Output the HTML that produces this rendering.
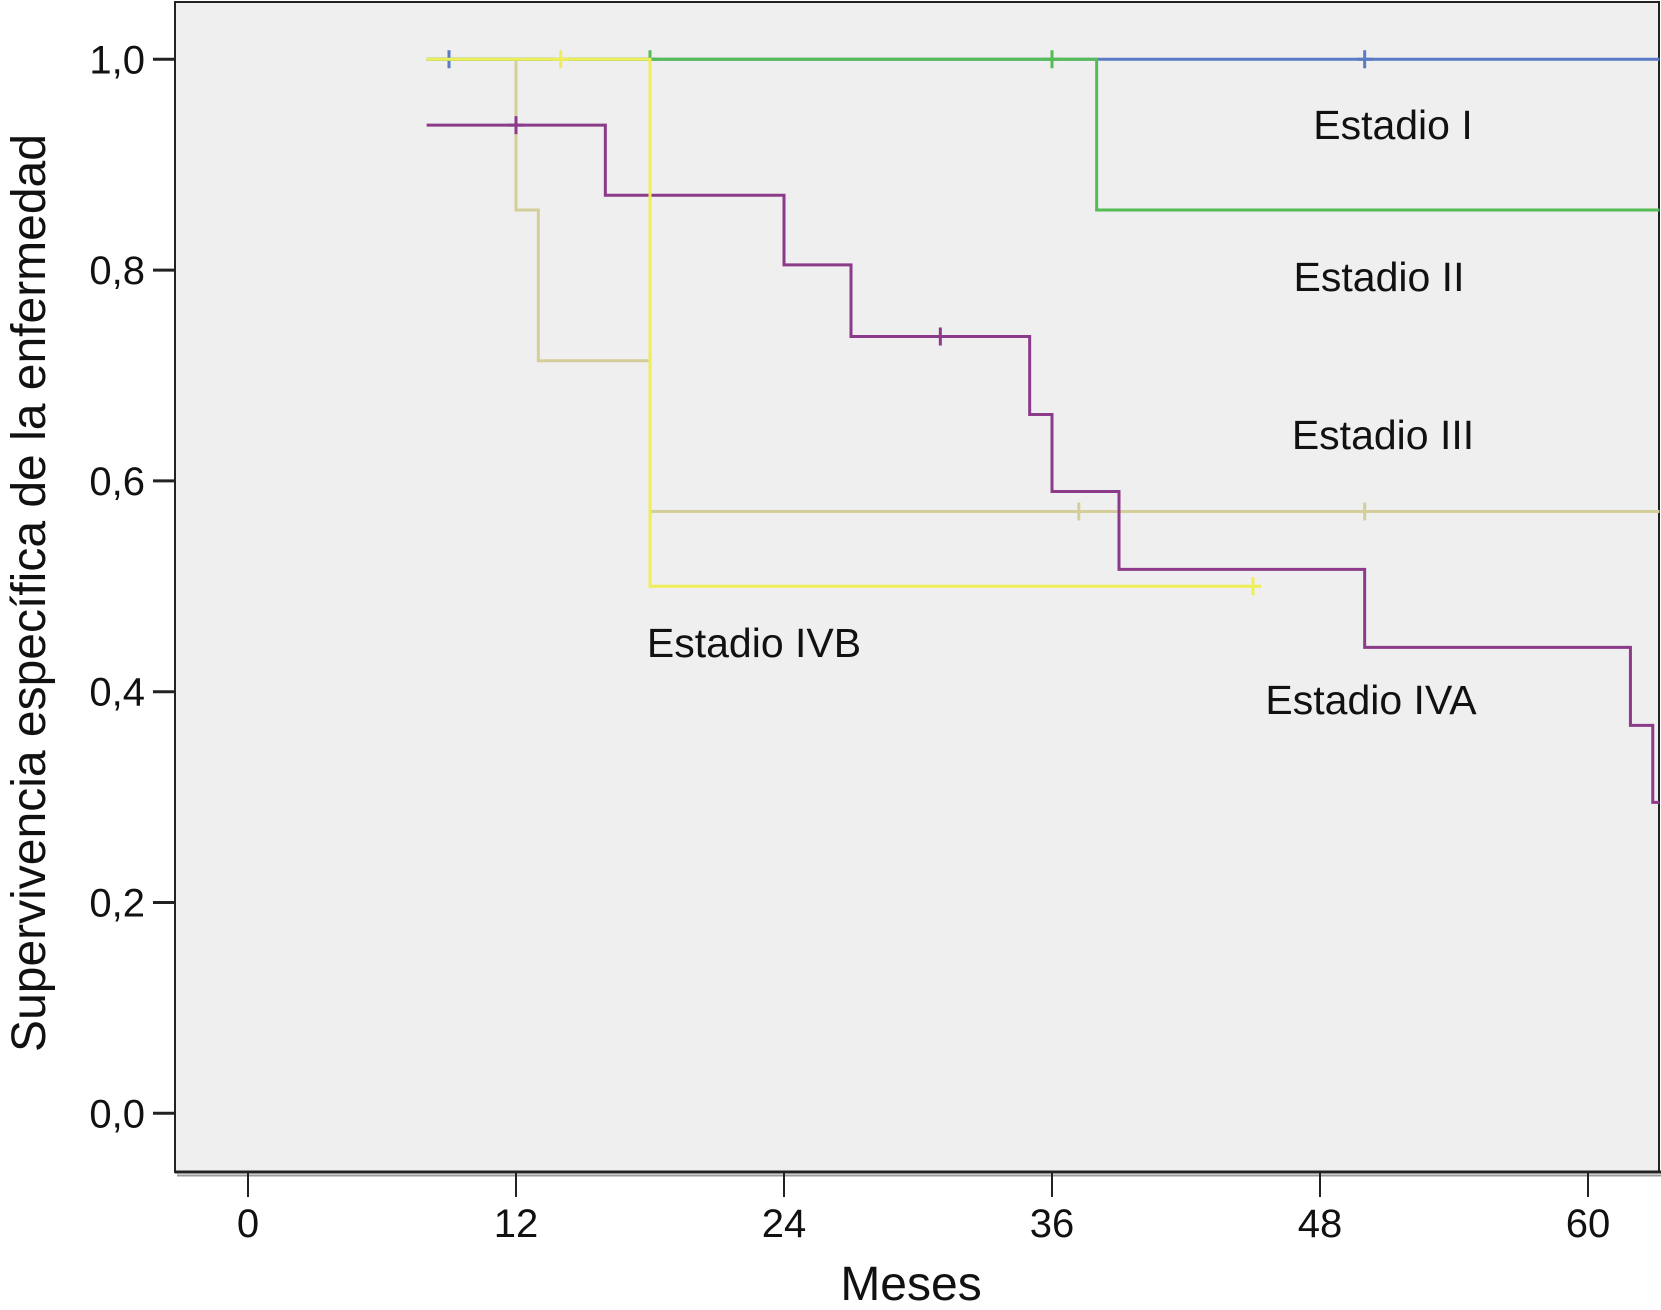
<!DOCTYPE html>
<html><head><meta charset="utf-8"><style>
html,body{margin:0;padding:0;background:#fff;}
svg{display:block;font-family:"Liberation Sans",Arial,sans-serif;}
</style></head><body>
<svg id="chart" width="1661" height="1310" viewBox="0 0 1661 1310">
<rect x="175" y="2" width="1484" height="1170" fill="#efefef" stroke="#222" stroke-width="2"/>
<line x1="175" y1="1172" x2="1661" y2="1172" stroke="#222" stroke-width="3"/>
<line x1="177" y1="1175.5" x2="1661" y2="1175.5" stroke="#999" stroke-width="2"/>
<g id="axes"></g>
<g id="series"></g>
<text transform="translate(45,593) rotate(-90)" text-anchor="middle" font-size="48" fill="#111">Supervivencia específica de la enfermedad</text>
<text x="911" y="1300" text-anchor="middle" font-size="48" fill="#111">Meses</text>
<text x="1393" y="139" text-anchor="middle" font-size="41" fill="#111">Estadio I</text>
<text x="1379" y="291" text-anchor="middle" font-size="41" fill="#111">Estadio II</text>
<text x="1383" y="449" text-anchor="middle" font-size="41" fill="#111">Estadio III</text>
<text x="754" y="657" text-anchor="middle" font-size="41" fill="#111">Estadio IVB</text>
<text x="1371" y="714" text-anchor="middle" font-size="41" fill="#111">Estadio IVA</text>
</svg>
<script>
const xTicks = [0, 12, 24, 36, 48, 60];
const yTicks = [0, 0.2, 0.4, 0.6, 0.8, 1.0];
const yTickLabels = ["0,0", "0,2", "0,4", "0,6", "0,8", "1,0"];
const endMonth = 63.2;
const s1Times = [8];
const s1Vals = [1.0];
const s1Cens = [9, 50];
const s2Times = [8, 38];
const s2Vals = [1.0, 0.857];
const s2Cens = [18, 36];
const s3Times = [8, 12, 13, 18];
const s3Vals = [1.0, 0.857, 0.714, 0.571];
const s3Cens = [37.2, 50];
const s4Times = [8, 18];
const s4Vals = [1.0, 0.5];
const s4End = 45;
const s4Cens = [14, 45];
const s5Times = [8, 16, 24, 27, 35, 36, 39, 50, 61.9, 62.9];
const s5Vals = [0.9375, 0.871, 0.805, 0.737, 0.663, 0.59, 0.516, 0.442, 0.368, 0.295];
const s5Cens = [12, 31];

const NS = "http://www.w3.org/2000/svg";
function X(m){ return 248 + m * (268/12); }
function Y(v){ return 1113.3 - v * 1054; }
function mk(tag, attrs, parent){
  const e = document.createElementNS(NS, tag);
  for (const k in attrs) e.setAttribute(k, attrs[k]);
  parent.appendChild(e); return e;
}
const axes = document.getElementById("axes");
xTicks.forEach((t, i) => {
  const l = mk("line", {x1: X(t), x2: X(t), y1: 1172, y2: 1197, stroke: "#222", "stroke-width": 2}, axes);
  
  
  const tx = mk("text", {x: X(t), y: 1237, "text-anchor": "middle", "font-size": 40, fill: "#111"}, axes);
  tx.textContent = t;
  
  
});
yTicks.forEach((t, i) => {
  const l = mk("line", {x1: 153, x2: 175, y1: Y(t), y2: Y(t), stroke: "#222", "stroke-width": 3}, axes);
  
  
  const tx = mk("text", {x: 145, y: Y(t) + 14, "text-anchor": "end", "font-size": 40, fill: "#111"}, axes);
  tx.textContent = yTickLabels[i];
  
  
});
const ser = document.getElementById("series");
function stepPath(times, vals, end){
  let d = "M" + X(times[0]) + "," + Y(vals[0]);
  for (let i = 1; i < times.length; i++){
    d += " H" + X(times[i]) + " V" + Y(vals[i]);
  }
  d += " H" + X(end);
  return d;
}
function valAt(times, vals, t){
  let v = vals[0];
  for (let i = 0; i < times.length; i++) if (times[i] <= t) v = vals[i];
  return v;
}
function drawSeries(name, times, vals, end, cens, color){
  const g = mk("g", {}, ser);
  
  
  const p = mk("path", {d: stepPath(times, vals, end), fill: "none", stroke: color, "stroke-width": 3}, g);
  
  
  cens.forEach(c => {
    const cx = X(c), cy = Y(valAt(times, vals, c));
    const m = mk("path", {d: `M${cx-8},${cy} H${cx+8} M${cx},${cy-9} V${cy+9}`, stroke: color, "stroke-width": 3}, g);
    
    
  });
}
drawSeries("estadio-iii", s3Times, s3Vals, endMonth, s3Cens, "#d4cf9a");
drawSeries("estadio-iva", s5Times, s5Vals, endMonth, s5Cens, "#8c3a8a");
drawSeries("estadio-i", s1Times, s1Vals, endMonth, s1Cens, "#5b7ac4");
drawSeries("estadio-ii", s2Times, s2Vals, endMonth, s2Cens, "#55bb55");
drawSeries("estadio-ivb", s4Times, s4Vals, s4End, s4Cens, "#eeee5a");
</script>
</body></html>
